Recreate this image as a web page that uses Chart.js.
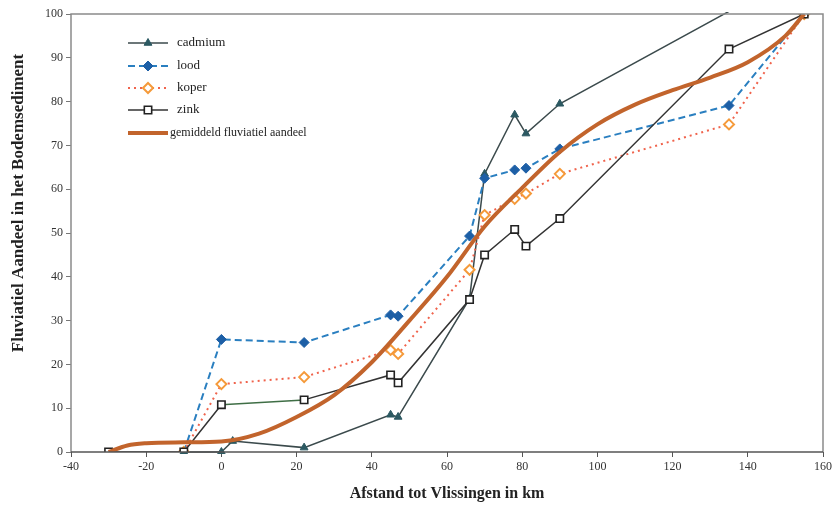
<!DOCTYPE html>
<html lang="nl">
<head>
    <meta charset="UTF-8">
    <title>Fluviatiel aandeel in het bodemsediment</title>
    <script src="https://cdn.jsdelivr.net/npm/chart.js@4.4.0/dist/chart.umd.min.js"></script>
    <style>
        html, body { margin: 0; padding: 0; background: #ffffff; }
        .wrap { position: relative; width: 835px; height: 511px; }
    </style>
</head>
<body>
    <div class="wrap"><canvas id="chart" width="835" height="511"></canvas></div>

    <script>
        // afstand tot Vlissingen (km) en fluviatiel aandeel (%) per metaal
        const cadmiumKm = [-10, 0, 3, 22, 45, 47, 66, 70, 78, 81, 90, 135];
        const cadmiumPct = [0, 0, 2.5, 1, 8.5, 8, 35, 63.5, 77, 72.7, 79.5, 100.6];

        const loodKm = [-10, 0, 22, 45, 47, 66, 70, 78, 81, 90, 135, 155];
        const loodPct = [0, 25.7, 25, 31.3, 31, 49.3, 62.5, 64.4, 64.8, 69.2, 79.1, 100];

        const koperKm = [-10, 0, 22, 45, 47, 66, 70, 78, 81, 90, 135, 155];
        const koperPct = [0, 15.5, 17.1, 23.3, 22.4, 41.6, 54.1, 57.8, 59, 63.5, 74.8, 100];

        const zinkKm = [-30, -10, 0, 22, 45, 47, 66, 70, 78, 81, 90, 135, 155];
        const zinkPct = [0, 0, 10.8, 11.9, 17.6, 15.8, 34.8, 45, 50.8, 47, 53.3, 92, 100];

        const gemKm = [-30, -25, -20, -10, 0, 10, 20, 30, 40, 50, 60, 70, 80, 90, 100, 110, 120, 130, 140, 150, 155];
        const gemPct = [0, 1.5, 2, 2.2, 2.4, 4.2, 8, 13, 20.5, 30, 40, 51.5, 60.3, 68.5, 74.8, 79.3, 82.6, 85.5, 89, 95, 100];

        const seriesNames = ['cadmium', 'lood', 'koper', 'zink', 'gemiddeld fluviatiel aandeel'];
        const xTitle = 'Afstand tot Vlissingen in km';
        const yTitle = 'Fluviatiel Aandeel in het Bodemsediment';

        function pts(xs, ys) {
            return xs.map((x, i) => ({ x: x, y: ys[i] }));
        }

        const serif = "'Liberation Serif', 'DejaVu Serif', serif";

        // legenda binnen het plotvlak, linksboven
        const innerLegend = {
            id: 'innerLegend',
            afterDatasetsDraw(chart) {
                const ctx = chart.ctx;
                const x0 = 128, x1 = 168, tx = 177;
                const rows = [43, 66, 88, 110, 133];
                ctx.save();
                chart.data.datasets.forEach((ds, di) => {
                    const y = rows[di];
                    ctx.beginPath();
                    ctx.strokeStyle = ds.borderColor;
                    ctx.lineWidth = ds.borderWidth;
                    ctx.setLineDash(ds.borderDash || []);
                    ctx.moveTo(x0, y);
                    ctx.lineTo(x1, y);
                    ctx.stroke();
                    ctx.setLineDash([]);
                    if (ds.legendRadius) {
                        ctx.fillStyle = ds.pointBackgroundColor;
                        ctx.strokeStyle = ds.pointBorderColor;
                        ctx.lineWidth = ds.pointBorderWidth;
                        Chart.helpers.drawPoint(ctx, {
                            pointStyle: ds.pointStyle,
                            radius: ds.legendRadius,
                            borderWidth: ds.pointBorderWidth,
                            rotation: 0
                        }, (x0 + x1) / 2, y);
                    }
                    ctx.fillStyle = '#222';
                    ctx.font = (di === 4 ? '12px ' : '13px ') + serif;
                    ctx.textBaseline = 'middle';
                    ctx.textAlign = 'left';
                    ctx.fillText(ds.label, di === 4 ? 170 : tx, y);
                });
                ctx.restore();
            },
            afterDraw(chart) {
                const a = chart.chartArea;
                const ctx = chart.ctx;
                ctx.save();
                ctx.strokeStyle = '#8a8a8a';
                ctx.lineWidth = 1.5;
                ctx.beginPath();
                ctx.moveTo(a.left, a.bottom);
                ctx.lineTo(a.left, a.top);
                ctx.lineTo(a.right, a.top);
                ctx.lineTo(a.right, a.bottom);
                ctx.stroke();
                ctx.strokeStyle = '#555';
                ctx.beginPath();
                ctx.moveTo(a.left, a.bottom);
                ctx.lineTo(a.right, a.bottom);
                ctx.stroke();
                // titel van de y-as
                ctx.translate(19, 203);
                ctx.rotate(-Math.PI / 2);
                ctx.fillStyle = '#222';
                ctx.font = 'bold 17px ' + serif;
                ctx.textAlign = 'center';
                ctx.textBaseline = 'middle';
                ctx.fillText(yTitle, 0, 0);
                ctx.restore();
            }
        };

        new Chart(document.getElementById('chart'), {
            type: 'line',
            data: {
                datasets: [{
                    label: seriesNames[0],
                    data: pts(cadmiumKm, cadmiumPct),
                    borderColor: '#3b4a4c',
                    borderWidth: 1.5,
                    pointStyle: 'triangle',
                    pointRadius: ctx => (ctx.parsed && ctx.parsed.y > 100 ? 0 : 4.5),
                    legendRadius: 4.5,
                    pointBackgroundColor: '#2c5962',
                    pointBorderColor: '#2c5962',
                    pointBorderWidth: 1,
                    tension: 0,
                    clip: 2,
                    order: 4
                }, {
                    label: seriesNames[1],
                    data: pts(loodKm, loodPct),
                    borderColor: '#2a7fc0',
                    borderWidth: 2,
                    borderDash: [7, 4],
                    pointStyle: 'rectRot',
                    pointRadius: 5,
                    legendRadius: 5,
                    pointBackgroundColor: '#1d5fa6',
                    pointBorderColor: '#1d5fa6',
                    pointBorderWidth: 1,
                    tension: 0,
                    order: 3
                }, {
                    label: seriesNames[2],
                    data: pts(koperKm, koperPct),
                    borderColor: '#f0634c',
                    borderWidth: 2,
                    borderDash: [2, 4],
                    pointStyle: 'rectRot',
                    pointRadius: 5,
                    legendRadius: 5,
                    pointBackgroundColor: '#ffffff',
                    pointBorderColor: '#f59a3a',
                    pointBorderWidth: 2,
                    tension: 0,
                    order: 2
                }, {
                    label: seriesNames[3],
                    data: pts(zinkKm, zinkPct),
                    borderColor: '#333333',
                    borderWidth: 1.5,
                    segment: {
                        borderColor: ctx => (ctx.p0DataIndex === 2 ? '#3f6e45' : undefined)
                    },
                    pointStyle: 'rect',
                    pointRadius: 5.2,
                    legendRadius: 5.2,
                    pointBackgroundColor: '#ffffff',
                    pointBorderColor: '#222222',
                    pointBorderWidth: 1.6,
                    tension: 0,
                    order: 1
                }, {
                    label: seriesNames[4],
                    data: pts(gemKm, gemPct),
                    borderColor: '#c2642c',
                    borderWidth: 4,
                    pointRadius: 0,
                    legendRadius: 0,
                    cubicInterpolationMode: 'monotone',
                    order: 0
                }]
            },
            options: {
                responsive: false,
                animation: false,
                devicePixelRatio: 1,
                layout: { padding: { top: 14, right: 12, left: 0, bottom: 0 } },
                plugins: {
                    legend: { display: false },
                    tooltip: { enabled: false }
                },
                scales: {
                    x: {
                        type: 'linear',
                        min: -40,
                        max: 160,
                        ticks: {
                            stepSize: 20,
                            maxRotation: 0,
                            color: '#333',
                            padding: 3,
                            font: { family: serif, size: 12 }
                        },
                        grid: {
                            drawOnChartArea: false,
                            drawTicks: true,
                            tickLength: 5,
                            color: '#555'
                        },
                        border: { display: false },
                        title: {
                            display: true,
                            text: xTitle,
                            color: '#222',
                            font: { family: serif, size: 16, weight: 'bold', lineHeight: 1.2 },
                            padding: { top: 0, bottom: 8 }
                        },
                        afterFit(axis) { axis.height = 59; }
                    },
                    y: {
                        min: 0,
                        max: 100,
                        ticks: {
                            stepSize: 10,
                            color: '#333',
                            padding: 3,
                            font: { family: serif, size: 12 }
                        },
                        grid: {
                            drawOnChartArea: false,
                            drawTicks: true,
                            tickLength: 5,
                            color: '#777'
                        },
                        border: { display: false },
                        afterFit(axis) { axis.width = 71; }
                    }
                }
            },
            plugins: [innerLegend]
        });
    </script>
</body>
</html>
